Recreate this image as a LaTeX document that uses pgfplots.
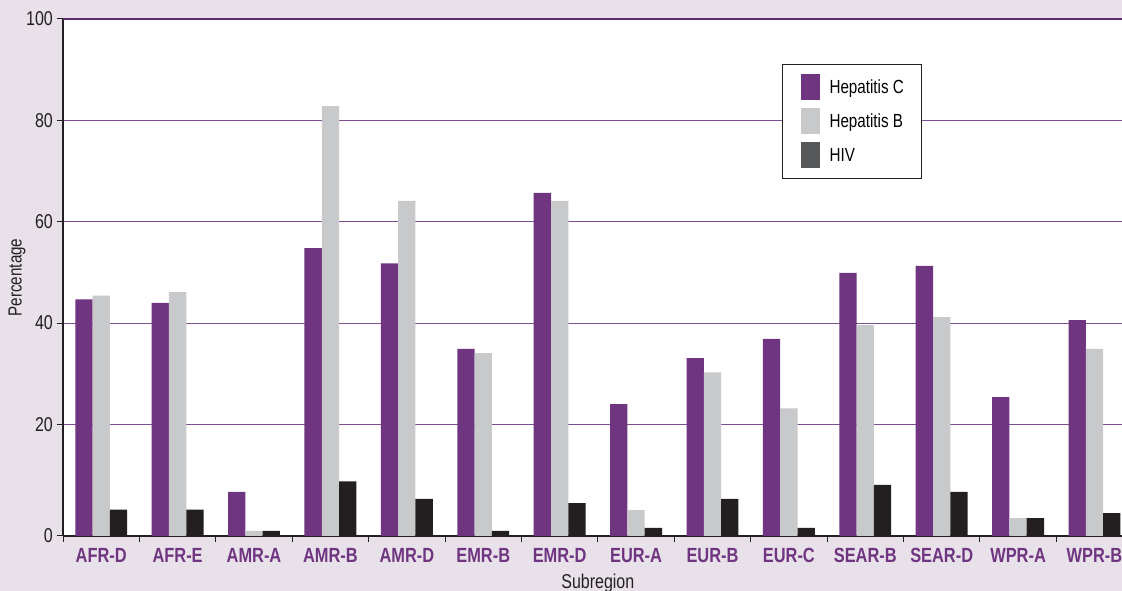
\documentclass[border=0pt]{standalone}
\usepackage{fontspec}
\setmainfont{Liberation Sans}[FakeStretch=0.8]
\usepackage{pgfplots}
\usepackage{pgfplotstable}
\pgfplotsset{compat=1.18}
\definecolor{bgc}{HTML}{E8E1EA}
\definecolor{purp}{HTML}{703581}
\definecolor{grayb}{HTML}{C8C9CB}
\definecolor{blackb}{HTML}{231F20}
\definecolor{hivleg}{HTML}{555759}
\definecolor{gridc}{HTML}{7E4E93}
\definecolor{topc}{HTML}{5E2D70}
\definecolor{darkc}{HTML}{231F20}

\pgfplotstableread{
x hepc hepb hiv
0 46.7 47.4 5.2
1 46.0 48.1 5.2
2 8.7 1.0 1.0
3 56.8 84.8 10.8
4 53.8 66.1 7.3
5 36.9 36.1 1.0
6 67.7 66.1 6.5
7 26.0 5.1 1.6
8 35.1 32.3 7.3
9 38.9 25.2 1.6
10 51.9 41.6 10.1
11 53.3 43.2 8.7
12 27.4 3.55 3.55
13 42.6 36.9 4.5
}\datatable

\begin{document}
\begin{tikzpicture}[x=1pt,y=1pt]
\fill[bgc] (0,0) rectangle (1122,591);
\useasboundingbox (0,0) rectangle (1122,591);
\begin{axis}[
  at={(63pt,55pt)}, anchor=south west,
  scale only axis, width=1059pt, height=517pt,
  xmin=-0.5, xmax=13.36, ymin=0, ymax=102,
  axis background/.style={fill=white},
  axis lines*=left,
  x axis line style={draw=darkc, line width=1.2pt},
  y axis line style={draw=darkc, line width=1.6pt},
  tick align=outside,
  ytick={0,22,42,62,82},
  yticklabels={0,20,40,60,80},
  ytick style={draw=darkc, line width=1pt},
  major tick length=6pt,
  yticklabel style={inner sep=0pt, xshift=-4pt, font=\fontsize{20}{22}\selectfont, text=darkc},
  extra y ticks={102},
  extra y tick labels={100},
  extra y tick style={grid style={draw=topc, line width=1.8pt}},
  ymajorgrids,
  grid style={draw=gridc, line width=1pt},
  xtick={-0.5,0.5,...,13.5},
  xticklabels={},
  xtick style={draw=darkc, line width=1pt},
  extra x ticks={0,1,...,13},
  extra x tick labels={AFR-D,AFR-E,AMR-A,AMR-B,AMR-D,EMR-B,EMR-D,EUR-A,EUR-B,EUR-C,SEAR-B,SEAR-D,WPR-A,WPR-B},
  extra x tick style={major tick length=0pt, xticklabel style={inner sep=0pt, yshift=-12pt, font=\bfseries\fontsize{20.5}{22}\selectfont, text=purp}},
  ylabel={Percentage},
  ylabel style={at={(axis description cs:-0.0434,0.5)}, anchor=center, font=\fontsize{19}{22}\selectfont, text=darkc},
  xlabel={Subregion},
  xlabel style={at={(axis description cs:0.505,-0.0725)}, anchor=north, inner sep=0pt, font=\fontsize{20}{22}\selectfont, text=darkc},
  ybar, bar width=17.3pt,
  legend image code/.code={\fill[#1] (0pt,-13pt) rectangle (19pt,13pt); \path (29pt,0pt);},
  legend style={at={(0.679,0.913)}, anchor=north west, draw=darkc, line width=1pt, fill=white,
    font=\fontsize{19}{20}\selectfont, nodes={inner sep=0pt}, row sep=8pt,
    inner xsep=18pt, inner ysep=10pt},
  legend cell align=left,
]
\addplot[draw=none, fill=purp, bar shift=-17.3pt] table[x=x, y=hepc] {\datatable};
\addlegendentry{Hepatitis C}
\addplot[draw=none, fill=grayb, bar shift=0pt] table[x=x, y=hepb] {\datatable};
\addlegendentry{Hepatitis B}
\addplot[draw=none, fill=blackb, bar shift=17.3pt, legend image code/.code={\fill[hivleg] (0pt,-13pt) rectangle (19pt,13pt); \path (29pt,0pt);}] table[x=x, y=hiv] {\datatable};
\addlegendentry{HIV}
\end{axis}
\end{tikzpicture}
\end{document}
